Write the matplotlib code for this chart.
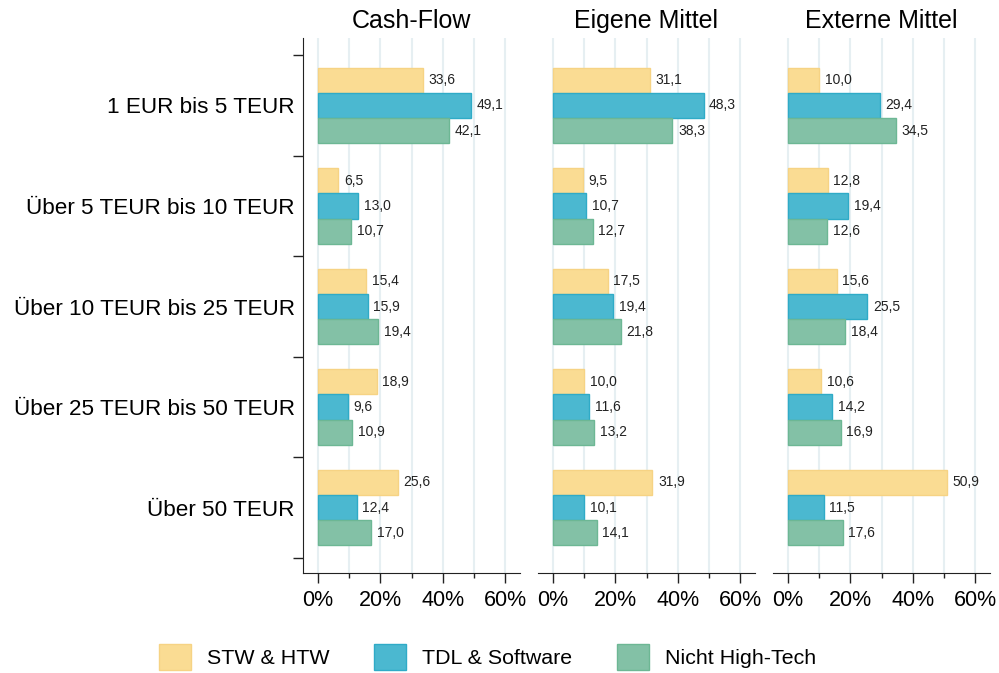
import numpy as np
import matplotlib.pyplot as plt
from matplotlib.patches import Patch

# ==================================================
# DATA
# ==================================================

categories = [
    "1 EUR bis 5 TEUR",
    "Über 5 TEUR bis 10 TEUR",
    "Über 10 TEUR bis 25 TEUR",
    "Über 25 TEUR bis 50 TEUR",
    "Über 50 TEUR",
]

panels = ["Cash-Flow", "Eigene Mittel", "Externe Mittel"]
groups = ["STW & HTW", "TDL & Software", "Nicht High-Tech"]

stw_htw = [
    [33.6, 6.5, 15.4, 18.9, 25.6],
    [31.1, 9.5, 17.5, 10.0, 31.9],
    [10.0, 12.8, 15.6, 10.6, 50.9],
]
tdl_software = [
    [49.1, 13.0, 15.9, 9.6, 12.4],
    [48.3, 10.7, 19.4, 11.6, 10.1],
    [29.4, 19.4, 25.5, 14.2, 11.5],
]
nicht_high_tech = [
    [42.1, 10.7, 19.4, 10.9, 17.0],
    [38.3, 12.7, 21.8, 13.2, 14.1],
    [34.5, 12.6, 18.4, 16.9, 17.6],
]

# ==================================================
# STYLE
# ==================================================

plt.rcParams["font.family"] = ["Liberation Sans", "DejaVu Sans"]

FILL = ["#FADC93", "#4BB8D0", "#83C1A6"]
EDGE = ["#F6D384", "#2FABC7", "#6DB794"]
GRID = "#E6EFF2"
BAR_H = 0.25

# ==================================================
# FIGURE
# ==================================================

fig = plt.figure(figsize=(9.99, 6.73), dpi=100)

lefts = [303, 538, 773]
y = np.arange(len(categories))

for i, name in enumerate(panels):
    ax = fig.add_axes([lefts[i] / 999, 1 - 573 / 673, 217 / 999, 535 / 673])

    series = [stw_htw[i], tdl_software[i], nicht_high_tech[i]]
    for k, vals in enumerate(series):
        pos = y + (k - 1) * BAR_H
        ax.barh(pos, vals, height=BAR_H, color=FILL[k], edgecolor=EDGE[k],
                linewidth=1, zorder=2)
        for p, v in zip(pos, vals):
            ax.annotate(f"{v:.1f}".replace(".", ","), (v, p),
                        xytext=(4, 0), textcoords="offset points",
                        ha="left", va="center", fontsize=10, color="#222222")

    ax.set_xlim(-4.8, 64.8)
    ax.set_ylim(4.65, -0.67)

    ax.set_xticks([0, 20, 40, 60])
    ax.set_xticklabels(["0%", "20%", "40%", "60%"])
    ax.set_xticks([10, 30, 50], minor=True)
    ax.tick_params(axis="x", which="major", length=7, width=1, pad=5,
                   labelsize=15.5, color="#222222")
    ax.tick_params(axis="x", which="minor", length=3.5, width=1, color="#222222")

    for gx in range(0, 70, 10):
        ax.axvline(gx, color=GRID, linewidth=1.5, zorder=0)

    for side in ["top", "right"]:
        ax.spines[side].set_visible(False)
    ax.spines["bottom"].set_color("#222222")

    if i == 0:
        ax.set_yticks(np.arange(-0.5, len(categories), 1))
        ax.set_yticklabels([])
        ax.set_yticks(y, minor=True)
        ax.set_yticklabels(categories, minor=True)
        ax.tick_params(axis="y", which="major", length=7, width=1, color="#222222")
        ax.tick_params(axis="y", which="minor", length=0, pad=6, labelsize=16.2)
        ax.spines["left"].set_color("#222222")
    else:
        ax.spines["left"].set_visible(False)
        ax.set_yticks([])

    ax.set_title(name, fontsize=18, pad=7)

# ==================================================
# LEGEND
# ==================================================

handles = [Patch(facecolor=FILL[k], edgecolor=EDGE[k], label=groups[k])
           for k in range(3)]
fig.legend(handles=handles, loc="lower center", bbox_to_anchor=(0.488, -0.024),
           ncol=3, frameon=False, fontsize=15.4, handlelength=1.5,
           handleheight=1.5, handletextpad=0.75, columnspacing=2.1)

plt.savefig("out.png", dpi=100)
